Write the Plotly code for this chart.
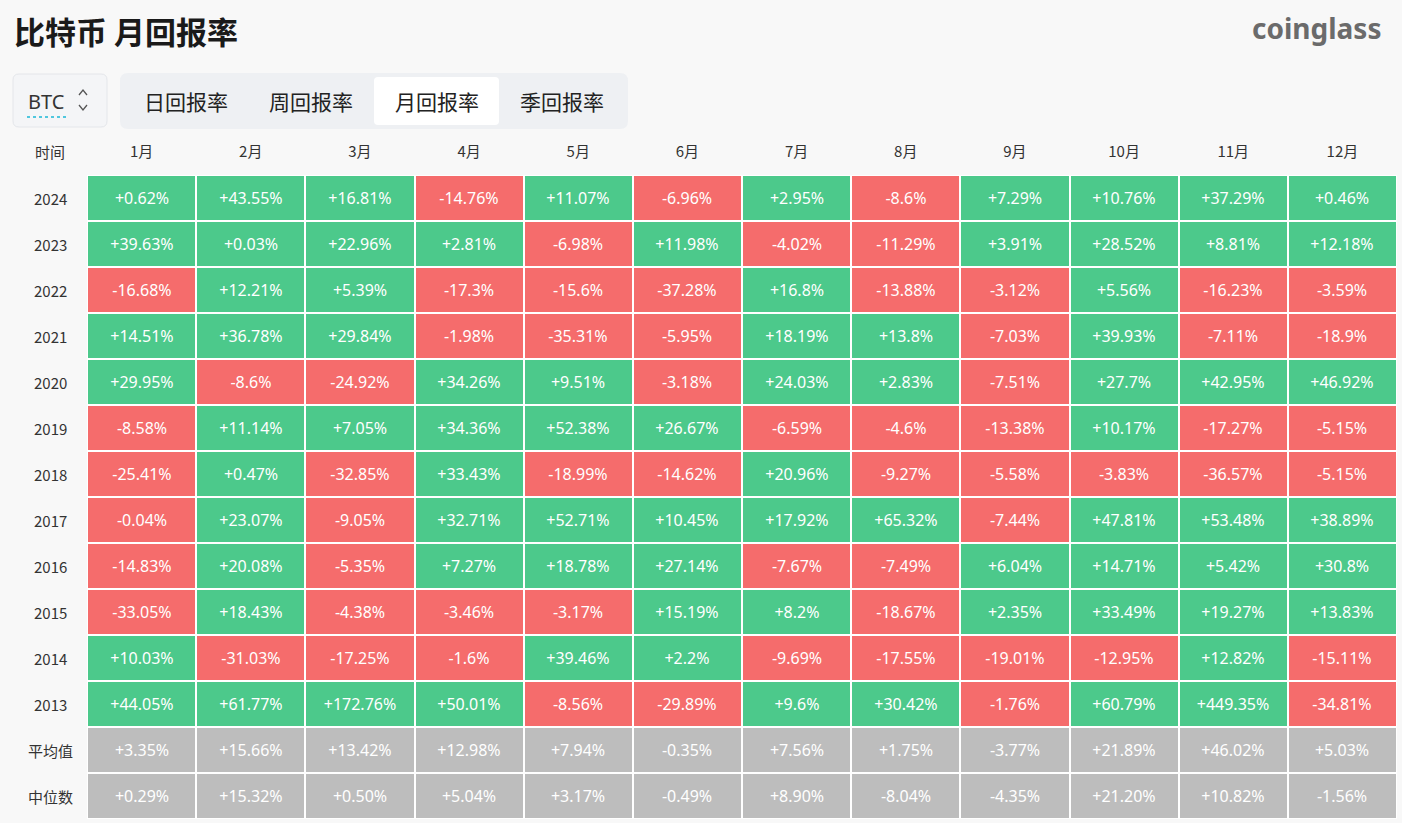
import plotly.graph_objects as go

W, H = 1402, 823

months = ["1月", "2月", "3月", "4月", "5月", "6月", "7月", "8月", "9月", "10月", "11月", "12月"]
row_labels = ["2024", "2023", "2022", "2021", "2020", "2019", "2018", "2017", "2016", "2015", "2014", "2013", "平均值", "中位数"]

r2024 = [0.62, 43.55, 16.81, -14.76, 11.07, -6.96, 2.95, -8.6, 7.29, 10.76, 37.29, 0.46]
r2023 = [39.63, 0.03, 22.96, 2.81, -6.98, 11.98, -4.02, -11.29, 3.91, 28.52, 8.81, 12.18]
r2022 = [-16.68, 12.21, 5.39, -17.3, -15.6, -37.28, 16.8, -13.88, -3.12, 5.56, -16.23, -3.59]
r2021 = [14.51, 36.78, 29.84, -1.98, -35.31, -5.95, 18.19, 13.8, -7.03, 39.93, -7.11, -18.9]
r2020 = [29.95, -8.6, -24.92, 34.26, 9.51, -3.18, 24.03, 2.83, -7.51, 27.7, 42.95, 46.92]
r2019 = [-8.58, 11.14, 7.05, 34.36, 52.38, 26.67, -6.59, -4.6, -13.38, 10.17, -17.27, -5.15]
r2018 = [-25.41, 0.47, -32.85, 33.43, -18.99, -14.62, 20.96, -9.27, -5.58, -3.83, -36.57, -5.15]
r2017 = [-0.04, 23.07, -9.05, 32.71, 52.71, 10.45, 17.92, 65.32, -7.44, 47.81, 53.48, 38.89]
r2016 = [-14.83, 20.08, -5.35, 7.27, 18.78, 27.14, -7.67, -7.49, 6.04, 14.71, 5.42, 30.8]
r2015 = [-33.05, 18.43, -4.38, -3.46, -3.17, 15.19, 8.2, -18.67, 2.35, 33.49, 19.27, 13.83]
r2014 = [10.03, -31.03, -17.25, -1.6, 39.46, 2.2, -9.69, -17.55, -19.01, -12.95, 12.82, -15.11]
r2013 = [44.05, 61.77, 172.76, 50.01, -8.56, -29.89, 9.6, 30.42, -1.76, 60.79, 449.35, -34.81]
avg_row = [3.35, 15.66, 13.42, 12.98, 7.94, -0.35, 7.56, 1.75, -3.77, 21.89, 46.02, 5.03]
median_row = [0.29, 15.32, 0.50, 5.04, 3.17, -0.49, 8.90, -8.04, -4.35, 21.20, 10.82, -1.56]

year_rows = [r2024, r2023, r2022, r2021, r2020, r2019, r2018, r2017, r2016, r2015, r2014, r2013]
summary_rows = [avg_row, median_row]

GREEN = "#4cc98b"
RED = "#f56c6c"
GRAY = "#bdbdbd"
BG = "#f8f8f8"


def fmt_year(v):
    s = f"{v:+.2f}".rstrip("0").rstrip(".")
    return s + "%"


def fmt_sum(v):
    return f"{v:+.2f}%"


z, text = [], []
for row in year_rows:
    z.append([1 if v > 0 else -1 for v in row])
    text.append([fmt_year(v) for v in row])
for row in summary_rows:
    z.append([0 for _ in row])
    text.append([fmt_sum(v) for v in row])


def px(x):
    return x / W


def py(y):
    return 1 - y / H


fig = go.Figure()
fig.add_trace(go.Heatmap(
    x=months, y=row_labels, z=z, text=text,
    texttemplate="%{text}",
    textfont=dict(color="white", size=16, family="Noto Sans, DejaVu Sans"),
    colorscale=[[0, RED], [0.333, RED], [0.333, GRAY], [0.667, GRAY], [0.667, GREEN], [1, GREEN]],
    zmin=-1, zmax=1, showscale=False, xgap=2, ygap=2, hoverinfo="skip",
))

fig.update_layout(
    width=W, height=H,
    margin=dict(l=0, r=0, t=0, b=0),
    paper_bgcolor=BG, plot_bgcolor="white",
    xaxis=dict(domain=[px(87), px(1397)], side="top", type="category",
               range=[-0.5, len(months) - 0.5], fixedrange=True,
               showgrid=False, zeroline=False, ticks="", ticklabelstandoff=14,
               tickfont=dict(size=15, color="#333", family="Noto Sans CJK SC")),
    yaxis=dict(domain=[py(819), py(175)], type="category",
               range=[len(row_labels) - 0.5, -0.5], fixedrange=True,
               showgrid=False, zeroline=False, showticklabels=False, ticks=""),
    showlegend=False,
)

# row labels, centred, positioned via the category axis (by category index)
for i, lab in enumerate(row_labels):
    fig.add_annotation(x=px(50), xref="paper", y=i, yref="y", text=lab,
                       showarrow=False, xanchor="center", yanchor="middle",
                       font=dict(size=15, color="#333", family="Noto Sans CJK SC"))

fig.add_annotation(x=px(50), xref="paper", y=py(152), yref="paper", text="时间",
                   showarrow=False, xanchor="center", yanchor="middle",
                   font=dict(size=15, color="#333", family="Noto Sans CJK SC"))

# title and logo
fig.add_annotation(x=px(12), xref="paper", y=py(30), yref="paper", text="<b>比特币 月回报率</b>",
                   showarrow=False, xanchor="left", yanchor="middle",
                   font=dict(size=31, color="#1a1a1a", family="Noto Sans CJK SC"))
fig.add_annotation(x=px(1383), xref="paper", y=py(28), yref="paper", text="<b>coinglass</b>",
                   showarrow=False, xanchor="right", yanchor="middle",
                   font=dict(size=28, color="#6b6b6b", family="Noto Sans"))


def rrect(x0, y0, x1, y1, r):
    def P(x, y):
        return f"{px(x)},{py(y)}"
    return (f"M {P(x0 + r, y0)} L {P(x1 - r, y0)} Q {P(x1, y0)} {P(x1, y0 + r)} "
            f"L {P(x1, y1 - r)} Q {P(x1, y1)} {P(x1 - r, y1)} "
            f"L {P(x0 + r, y1)} Q {P(x0, y1)} {P(x0, y1 - r)} "
            f"L {P(x0, y0 + r)} Q {P(x0, y0)} {P(x0 + r, y0)} Z")


shapes = [
    dict(type="path", path=rrect(13, 74, 107, 127, 6), xref="paper", yref="paper",
         fillcolor="#f4f5f7", line=dict(color="#e4e6ea", width=1)),
    dict(type="path", path=rrect(120, 73, 628, 129, 8), xref="paper", yref="paper",
         fillcolor="#eef0f3", line=dict(width=0)),
    dict(type="path", path=rrect(374, 77, 499, 125, 4), xref="paper", yref="paper",
         fillcolor="white", line=dict(width=0)),
    dict(type="line", x0=px(27), x1=px(66), y0=py(117), y1=py(117), xref="paper", yref="paper",
         line=dict(color="#1ab8d6", width=1.5, dash="dot")),
    dict(type="path", path=f"M {px(79)},{py(95)} L {px(83)},{py(90)} L {px(87)},{py(95)}",
         xref="paper", yref="paper", line=dict(color="#555", width=1.3)),
    dict(type="path", path=f"M {px(79)},{py(105)} L {px(83)},{py(110)} L {px(87)},{py(105)}",
         xref="paper", yref="paper", line=dict(color="#555", width=1.3)),
]
fig.update_layout(shapes=shapes)

fig.add_annotation(x=px(46), xref="paper", y=py(101), yref="paper", text="BTC",
                   showarrow=False, xanchor="center", yanchor="middle",
                   font=dict(size=20, color="#333", family="Noto Sans"))

tabs = ["日回报率", "周回报率", "月回报率", "季回报率"]
tab_x = [186, 311, 437, 562]
for t, x in zip(tabs, tab_x):
    fig.add_annotation(x=px(x), xref="paper", y=py(101), yref="paper", text=t,
                       showarrow=False, xanchor="center", yanchor="middle",
                       font=dict(size=21, color="#222", family="Noto Sans CJK SC"))

fig.write_html("out.html")
